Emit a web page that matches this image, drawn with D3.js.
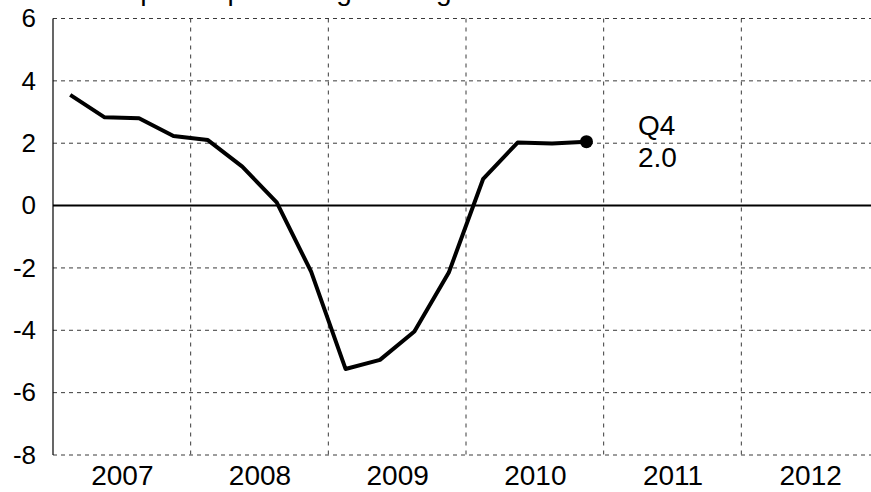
<!DOCTYPE html>
<html>
<head>
<meta charset="utf-8">
<script src="https://cdn.jsdelivr.net/npm/d3@7"></script>
<style>
  body { margin: 0; background: #fff; }
  svg { display: block; font-family: "Liberation Sans", Arial, sans-serif; }
</style>
</head>
<body>
<div id="chart"></div>
<script>
// data
const title = "Four-quarter percentage change"
const years = [2007, 2008, 2009, 2010, 2011, 2012]
const quarters = ["2007 Q1","2007 Q2","2007 Q3","2007 Q4",
                  "2008 Q1","2008 Q2","2008 Q3","2008 Q4",
                  "2009 Q1","2009 Q2","2009 Q3","2009 Q4",
                  "2010 Q1","2010 Q2","2010 Q3","2010 Q4"]
const growth = [3.55, 2.83, 2.80, 2.23,
                2.10, 1.25, 0.10, -2.12,
                -5.24, -4.95, -4.04, -2.15,
                0.86, 2.02, 1.99, 2.05]
const yTicks = [-8, -6, -4, -2, 0, 2, 4, 6]
const lastLabel = ["Q4", "2.0"]

const width = 871, height = 492
const margin = {top: 18.5, right: -8, bottom: 37, left: 53}

const svg = d3.select("#chart")
    .append("svg")
    .attr("width", width)
    .attr("height", height)
    .attr("viewBox", [0, 0, width, height])

// quarter -> decimal year (middle of the quarter)
const qTime = q => +q.slice(0, 4) + (+q.slice(6) - 0.5) / 4

const x = d3.scaleLinear()
    .domain([years[0], years[years.length - 1] + 1])
    .range([margin.left, width - margin.right])

const y = d3.scaleLinear()
    .domain([-8, 6])
    .range([height - margin.bottom, margin.top])

const grid = svg.append("g").attr("class", "grid")

//horizontal dashed lines (zero drawn solid below)
grid.selectAll("line.h")
    .data(yTicks.filter(d => d !== 0))
    .join("line")
    .attr("class", "h")
    .attr("x1", x.range()[0]).attr("x2", x.range()[1])
    .attr("y1", d => y(d)).attr("y2", d => y(d))
    .attr("stroke", "#3a3a3a")
    .attr("stroke-width", 1)
    .attr("stroke-dasharray", "4,4")

//year separators
grid.selectAll("line.v")
    .data(years.slice(1))
    .join("line")
    .attr("class", "v")
    .attr("x1", d => x(d)).attr("x2", d => x(d))
    .attr("y1", y(6)).attr("y2", y(-8))
    .attr("stroke", "#3a3a3a")
    .attr("stroke-width", 1)
    .attr("stroke-dasharray", "4,5")

// left frame
grid.append("line")
    .attr("x1", x(years[0])).attr("x2", x(years[0]))
    .attr("y1", y(6)).attr("y2", y(-8))
    .attr("stroke", "#000")
    .attr("stroke-width", 1.2)

// zero line
svg.append("line")
    .attr("x1", x.range()[0]).attr("x2", x.range()[1])
    .attr("y1", y(0)).attr("y2", y(0))
    .attr("stroke", "#000")
    .attr("stroke-width", 2)

// y axis
const yAxis = svg.append("g")
    .attr("transform", `translate(${margin.left},0)`)
    .call(d3.axisLeft(y).tickValues(yTicks).tickSize(0).tickPadding(17).tickFormat(d => String(d)))
yAxis.select(".domain").remove()
yAxis.selectAll("text")
    .attr("font-size", 26)
    .attr("font-family", "Liberation Sans, Arial, sans-serif")
    .attr("fill", "#000")

// x axis, labels in the middle of each year
const xAxis = svg.append("g")
    .attr("transform", `translate(0,${y(-8)})`)
    .call(d3.axisBottom(x).tickValues(years.map(d => d + 0.5)).tickSize(0).tickPadding(10).tickFormat(d => Math.floor(d)))
xAxis.select(".domain").remove()
xAxis.selectAll("text")
    .attr("font-size", 28)
    .attr("font-family", "Liberation Sans, Arial, sans-serif")
    .attr("fill", "#000")

// series
const line = d3.line()
    .x((d, i) => x(qTime(quarters[i])))
    .y(d => y(d))

svg.append("path")
    .datum(growth)
    .attr("d", line)
    .attr("fill", "none")
    .attr("stroke", "#000")
    .attr("stroke-width", 4)
    .attr("stroke-linejoin", "round")

const last = growth.length - 1
svg.append("circle")
    .attr("cx", x(qTime(quarters[last])))
    .attr("cy", y(growth[last]))
    .attr("r", 6.5)
    .attr("fill", "#000")

svg.append("g")
    .selectAll("text")
    .data(lastLabel)
    .join("text")
    .attr("x", 638)
    .attr("y", (d, i) => y(growth[last]) - 7 + i * 32)
    .attr("font-size", 28)
    .attr("fill", "#000")
    .text(d => d)

// title, mostly cut off at the top
svg.append("text")
    .attr("x", 64)
    .attr("y", 0)
    .attr("font-size", 28)
    .attr("fill", "#000")
    .text(title)
</script>
</body>
</html>
